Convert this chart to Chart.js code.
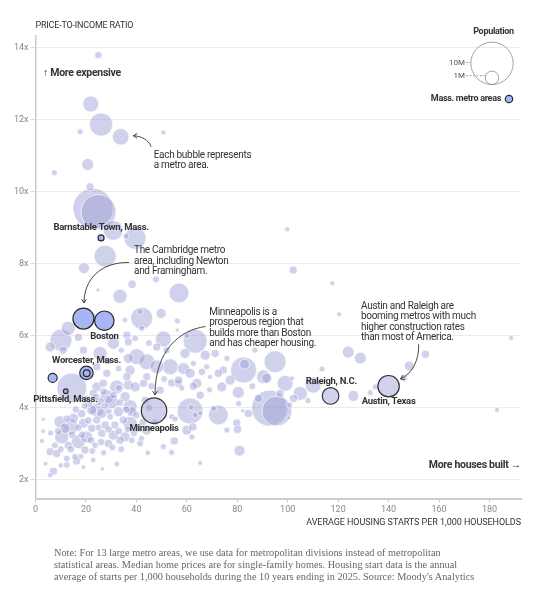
<!DOCTYPE html>
<html>
<head>
<meta charset="utf-8">
<script src="https://cdn.jsdelivr.net/npm/chart.js@4.4.1/dist/chart.umd.min.js"></script>
<style>
  html, body { margin: 0; padding: 0; background: #fff; }
  #wrap { position: relative; width: 542px; height: 599px; }
  #chart { position: absolute; left: 0; top: 0; }
  #note { position: absolute; left: 54px; top: 547px; width: 470px;
          font: 10.3px/12px 'Liberation Serif', Georgia, serif; color: #666; white-space: nowrap; }
</style>
</head>
<body>
<div id="wrap">
  <canvas id="chart" width="542" height="599"></canvas>
  <div id="note">Note: For 13 large metro areas, we use data for metropolitan divisions instead of metropolitan<br>statistical areas. Median home prices are for single-family homes. Housing start data is the annual<br>average of starts per 1,000 households during the 10 years ending in 2025. Source: Moody's Analytics</div>
</div>
<script>
// ===================
// Data (x = housing starts per 1,000 households, y = price-to-income, pop in millions)
// ===================

const otherX = [
  24.9, 21.9, 26.0, 33.8, 17.7, 50.7, 20.7, 7.5, 21.6, 22.8, 25.0, 30.8, 39.5, 35.9, 27.6, 19.2, 38.3, 47.8, 56.9, 33.5, 24.8, 99.8, 102.2, 117.7, 120.4, 188.6,
  124.0, 128.8, 154.6, 148.2, 146.2, 113.6, 110.1, 126.0, 132.7, 134.7, 183.0,
  92.8, 95.7, 95.0, 82.5, 82.9, 90.4, 99.0, 101.7, 102.3, 100.7, 100.3, 91.7, 105.0, 88.4, 84.4, 80.4, 73.9, 77.2, 74.5, 71.2, 75.9, 67.9, 72.5, 69.2, 72.5, 70.6, 79.8, 80.1, 75.9, 80.9, 82.2, 80.5, 97.0, 65.3,
  61.3, 61.7, 63.3, 65.3, 54.0, 56.7, 62.6, 65.3, 54.0, 55.4, 62.4, 62.0, 55.0, 54.0, 60.0, 50.7,
  42.1, 41.5, 42.1, 49.8, 56.2, 56.2, 50.7, 63.3, 59.3, 67.3, 62.6, 58.7, 53.4, 61.3, 56.7, 64.0, 49.4, 40.2, 44.1, 37.5, 48.1, 30.9, 36.2, 25.6, 19.0, 28.3, 24.3, 36.8, 48.1, 36.8, 32.9, 36.2, 44.1, 26.9, 32.2, 36.8, 42.8, 24.3, 28.3, 39.5, 43.5, 22.3, 35.5, 39.5,
  10.1, 13.0, 17.0, 5.8, 11.0, 14.4,
  3.1, 2.5, 9.7, 11.7, 10.4, 13.0, 7.7, 5.8, 17.0, 20.3, 22.3, 19.0, 15.0, 18.3, 22.3, 26.3, 30.2, 25.6, 22.9, 35.5, 32.9, 29.6, 24.3, 27.6, 31.5, 34.8, 38.2, 26.3, 30.9, 35.5, 38.2, 28.9, 23.6, 19.6, 15.7, 12.4, 16.3, 12.4, 7.1, 5.8, 22.9, 32.2, 21.0, 40.8, 37.5, 44.1, 41.5, 33.5, 8.4, 13.7, 24.3, 37.5,
  20.0, 24.0, 27.5, 29.0, 31.0, 33.5, 36.0, 40.0, 42.5, 39.0, 36.5, 33.0, 29.0, 25.0, 21.0, 17.0, 14.5, 18.5, 22.0, 26.0, 30.5, 34.0, 27.0, 22.5, 18.0, 14.0, 10.0, 9.0, 12.5, 16.0, 19.5, 27.0, 33.0, 45.0, 47.5, 42.0, 44.5, 10.0, 19.0, 26.5, 3.0, 6.0, 4.0,
  46.0, 51.0, 58.0, 66.0, 52.0, 45.0, 34.0, 28.5, 69.0, 86.0, 87.0, 108.0, 60.0
];
const otherY = [
  13.8, 12.44, 11.87, 11.53, 11.67, 11.65, 10.76, 10.53, 10.14, 9.54, 9.44, 8.93, 8.71, 8.77, 8.21, 7.88, 7.43, 7.57, 7.19, 7.10, 7.27, 8.96, 7.83, 7.46, 6.60, 5.94,
  5.55, 5.38, 5.49, 5.16, 4.83, 5.08, 4.63, 4.33, 4.42, 4.58, 3.94,
  3.99, 3.91, 5.28, 5.05, 5.21, 4.86, 4.68, 4.82, 4.26, 4.08, 3.72, 4.82, 4.40, 4.26, 3.84, 4.43, 4.58, 4.77, 5.05, 5.51, 5.37, 5.14, 4.96, 4.86, 3.80, 3.98, 3.58, 3.40, 3.38, 2.81, 3.92, 4.12, 4.40, 2.47,
  3.91, 4.01, 3.80, 3.85, 4.69, 4.68, 4.60, 4.35, 3.75, 3.69, 3.47, 3.19, 3.08, 2.76, 3.38, 2.92,
  6.49, 6.67, 6.21, 6.62, 6.41, 6.16, 5.91, 5.85, 5.51, 5.46, 5.23, 5.09, 5.14, 4.96, 4.77, 4.68, 4.49, 5.42, 5.28, 5.04, 5.14, 5.79, 6.02, 5.51, 5.60, 4.96, 5.14, 5.83, 5.69, 5.37, 5.09, 4.86, 4.86, 4.68, 4.58, 4.63, 4.68, 4.58, 4.31, 4.58, 4.21, 6.48, 6.44, 5.93,
  5.88, 6.21, 5.96, 5.69, 5.60, 4.55,
  3.68, 3.08, 3.61, 3.43, 3.19, 2.96, 2.96, 2.78, 3.06, 3.19, 3.43, 3.57, 3.71, 3.84, 3.94, 3.84, 4.17, 4.17, 4.40, 4.31, 3.89, 3.75, 3.66, 3.52, 3.52, 3.66, 3.89, 3.29, 3.24, 3.19, 3.10, 3.01, 2.96, 2.83, 2.64, 2.59, 2.52, 2.41, 2.24, 2.13, 2.55, 2.44, 4.12, 3.43, 3.57, 3.38, 3.01, 3.10, 2.73, 3.47, 3.94, 4.03,
  4.25, 4.30, 4.05, 3.90, 4.35, 4.15, 3.95, 3.80, 3.60, 3.30, 3.40, 3.35, 3.40, 3.45, 3.65, 3.45, 3.25, 3.25, 3.10, 3.05, 2.90, 2.85, 2.75, 2.80, 2.65, 2.85, 2.85, 3.35, 3.70, 3.95, 4.05, 4.45, 4.55, 4.00, 3.60, 3.15, 2.75, 2.40, 2.35, 2.30, 3.35, 3.30, 2.45,
  4.6, 4.8, 4.55, 5.0, 5.6, 5.8, 5.6, 5.3, 4.5, 4.6, 5.6, 4.2, 6.0
];
const otherPop = [
  0.3, 1.43, 3.0, 1.55, 0.2, 0.14, 0.8, 0.2, 0.36, 9.0, 6.8, 2.2, 2.7, 0.2, 2.7, 0.67, 0.4, 0.27, 2.2, 1.1, 0.09, 0.14, 0.36, 0.14, 0.14, 0.14,
  0.8, 0.8, 0.36, 0.56, 0.27, 0.2, 1.43, 0.67, 0.2, 0.2, 0.14,
  7.2, 5.0, 2.7, 3.8, 0.56, 1.1, 1.43, 0.14, 0.36, 0.2, 0.09, 0.56, 1.1, 0.36, 0.36, 0.8, 0.56, 0.56, 0.36, 0.36, 0.2, 0.2, 0.36, 0.14, 2.2, 0.2, 0.36, 0.36, 0.2, 0.67, 0.09, 0.2, 0.36, 0.14,
  3.8, 0.2, 0.2, 0.14, 0.36, 0.36, 0.36, 0.36, 0.2, 0.2, 0.36, 0.2, 0.36, 0.2, 0.56, 0.2,
  2.7, 0.2, 0.2, 0.56, 0.2, 0.09, 1.43, 3.2, 0.56, 0.56, 0.2, 0.8, 1.43, 0.56, 0.36, 0.56, 0.36, 1.43, 1.43, 0.56, 1.1, 0.8, 0.36, 1.1, 0.36, 0.36, 0.36, 0.36, 0.36, 0.56, 0.24, 0.36, 0.36, 0.36, 1.1, 0.56, 0.36, 0.56, 1.1, 0.56, 0.36, 0.8, 0.16, 0.24,
  2.7, 1.1, 0.36, 0.56, 0.36, 5.0,
  0.09, 0.14, 0.8, 0.56, 1.1, 0.36, 0.24, 0.36, 1.1, 0.8, 0.36, 0.56, 0.56, 0.36, 0.56, 0.56, 1.1, 0.36, 0.36, 0.56, 0.56, 0.24, 0.36, 0.36, 0.36, 0.36, 0.56, 0.36, 0.56, 0.56, 0.24, 0.36, 0.24, 0.36, 0.24, 0.24, 0.36, 0.24, 0.36, 0.16, 0.16, 0.16, 0.36, 0.36, 1.1, 0.56, 0.24, 0.36, 0.36, 1.43, 1.1, 1.1,
  0.3, 0.3, 0.3, 0.25, 0.3, 0.3, 0.3, 0.3, 0.3, 0.3, 0.25, 0.3, 0.3, 0.25, 0.3, 0.3, 0.3, 0.3, 0.3, 0.3, 0.25, 0.25, 0.2, 0.25, 0.2, 0.3, 0.25, 0.3, 0.3, 0.3, 0.25, 0.3, 0.25, 0.3, 0.25, 0.2, 0.16, 0.16, 0.12, 0.1, 0.12, 0.2, 0.12,
  0.3, 0.25, 0.2, 0.3, 0.3, 0.25, 0.2, 0.3, 0.2, 0.25, 0.2, 0.2, 0.2
];

// Massachusetts metro areas (highlighted)
const massNames = ['The Cambridge metro', 'Boston', 'Worcester, Mass.', '', '', 'Pittsfield, Mass.', 'Barnstable Town, Mass.'];
const massX   = [19.0, 27.3, 20.2, 20.3, 6.8, 12.0, 26.0];
const massY   = [6.48, 6.42, 4.97, 4.96, 4.83, 4.46, 8.72];
const massPop = [2.45, 2.1, 1.0, 0.25, 0.45, 0.12, 0.2];

// Outlined comparison metros
const calloutNames = ['Minneapolis', 'Raleigh, N.C.', 'Austin, Texas'];
const calloutX   = [47.0, 117.0, 140.0];
const calloutY   = [3.92, 4.33, 4.60];
const calloutPop = [3.6, 1.55, 2.55];

const xTicks = [0, 20, 40, 60, 80, 100, 120, 140, 160, 180];
const yTicks = [2, 4, 6, 8, 10, 12, 14];
const legendPops = [10, 1];
const legendLabels = ['10M', '1M'];

// ===================
// Helpers
// ===================

const FONT = "'Liberation Sans Narrow', 'Arial Narrow', Roboto, sans-serif";
const BUBBLE = 'rgba(150,154,210,0.45)';
const MASS = '#a6b5f3';

function radiusFor(pop) { return 6.7 * Math.sqrt(pop); }

function points(xs, ys, pops) {
  const n = Math.min(xs.length, ys.length, pops.length);
  const pts = [];
  for (let i = 0; i < n; i++) pts.push({ x: xs[i], y: ys[i], r: radiusFor(pops[i]) });
  return pts.sort((a, b) => b.r - a.r);
}

function txt(ctx, s, x, y, o) {
  o = o || {};
  ctx.font = (o.bold ? 'bold ' : '') + (o.size || 10) + 'px ' + FONT;
  ctx.fillStyle = o.color || '#333';
  ctx.textAlign = o.align || 'left';
  ctx.textBaseline = 'middle';
  ctx.letterSpacing = o.spacing || '-0.3px';
  ctx.fillText(s, x, y);
}

function lines(ctx, arr, x, y, step) {
  arr.forEach((s, i) => txt(ctx, s, x, y + i * step, { size: 10 }));
}

function arrow(ctx, p) {
  ctx.beginPath();
  ctx.moveTo(p[0], p[1]);
  ctx.bezierCurveTo(p[2], p[3], p[4], p[5], p[6], p[7]);
  ctx.stroke();
  const a = Math.atan2(p[7] - p[5], p[6] - p[4]);
  ctx.beginPath();
  ctx.moveTo(p[6] - 4.5 * Math.cos(a - 0.55), p[7] - 4.5 * Math.sin(a - 0.55));
  ctx.lineTo(p[6], p[7]);
  ctx.lineTo(p[6] - 4.5 * Math.cos(a + 0.55), p[7] - 4.5 * Math.sin(a + 0.55));
  ctx.stroke();
}

// ===================
// Annotations, labels and legend
// ===================

const notes = {
  id: 'notes',
  afterDraw(chart) {
    const ctx = chart.ctx;
    const xs = chart.scales.x, ys = chart.scales.y;
    const at = (vx, vy) => [xs.getPixelForValue(vx), ys.getPixelForValue(vy)];
    ctx.save();

    txt(ctx, 'PRICE-TO-INCOME RATIO', xs.left, 26, { size: 9, spacing: '-0.2px' });
    txt(ctx, 'AVERAGE HOUSING STARTS PER 1,000 HOUSEHOLDS', xs.right, 523, { size: 9, align: 'right', spacing: '-0.05px' });
    txt(ctx, '↑ More expensive', 43, 73, { bold: true, size: 10.5 });
    txt(ctx, 'More houses built →', xs.right, 465, { bold: true, size: 10.5, align: 'right' });

    // bubble labels
    const lab = (name, vx, vy, dx, dy) => {
      const p = at(vx, vy);
      txt(ctx, name, p[0] + dx, p[1] + dy, { bold: true, size: 9.5, align: 'center' });
    };
    lab(massNames[1], massX[1], massY[1], 0, 15.5);
    lab(massNames[2], massX[2], massY[2], 0, -12.7);
    lab(massNames[5], massX[5], massY[5], -0.4, 8);
    lab(massNames[6], massX[6], massY[6], 0, -10);
    lab(calloutNames[0], calloutX[0], calloutY[0], 0, 18);
    lab(calloutNames[1], calloutX[1], calloutY[1], 0.7, -14.7);
    lab(calloutNames[2], calloutX[2], calloutY[2], 0, 15.7);

    // callout texts
    lines(ctx, ['Each bubble represents', 'a metro area.'], 153.7, 155.3, 10.2);
    lines(ctx, ['The Cambridge metro', 'area, including Newton', 'and Framingham.'], 134, 250.7, 10.3);
    lines(ctx, ['Minneapolis is a', 'prosperous region that', 'builds more than Boston', 'and has cheaper housing.'], 209.3, 312.7, 10.2);
    lines(ctx, ['Austin and Raleigh are', 'booming metros with much', 'higher construction rates', 'than most of America.'], 361, 306.7, 10.2);

    ctx.strokeStyle = '#333';
    ctx.lineWidth = 0.9;
    arrow(ctx, [151, 146.7, 149, 140, 141, 136, 133.3, 135.7]);
    arrow(ctx, [129, 262.5, 100, 262, 84, 280, 84, 303]);
    arrow(ctx, [205.5, 326.5, 180, 330, 155, 350, 155, 395]);
    arrow(ctx, [418.7, 344.3, 419, 360, 413, 373, 400.5, 379]);

    // population legend
    txt(ctx, 'Population', 493.5, 32, { bold: true, size: 9, align: 'center' });
    const cx = 492, base = 84.5;
    ctx.strokeStyle = '#999';
    ctx.lineWidth = 0.9;
    const labelY = [62.5, 75.7];
    legendPops.forEach((pop, i) => {
      const r = radiusFor(pop);
      const cy = base - r;
      ctx.setLineDash([]);
      ctx.beginPath();
      ctx.arc(cx, cy, r, 0, Math.PI * 2);
      ctx.stroke();
      const dy = labelY[i] - cy;
      const edge = cx - Math.sqrt(Math.max(r * r - dy * dy, 0));
      ctx.setLineDash([2, 1.5]);
      ctx.beginPath();
      ctx.moveTo(466, labelY[i]);
      ctx.lineTo(edge, labelY[i]);
      ctx.stroke();
      txt(ctx, legendLabels[i], 465, labelY[i], { size: 8, color: '#555', align: 'right', spacing: '0px' });
    });
    ctx.setLineDash([]);
    txt(ctx, 'Mass. metro areas', 501, 99, { bold: true, size: 9, align: 'right' });
    ctx.beginPath();
    ctx.arc(509, 99, 3.7, 0, Math.PI * 2);
    ctx.fillStyle = MASS;
    ctx.fill();
    ctx.strokeStyle = '#2a2a2a';
    ctx.lineWidth = 1.2;
    ctx.stroke();

    ctx.restore();
  }
};

// ===================
// Bubble Chart
// ===================

var ctx = document.getElementById('chart').getContext('2d');
var chart = new Chart(ctx, {
  type: 'bubble',
  data: {
    datasets: [{
      label: 'Mass. metro areas',
      data: points(massX, massY, massPop),
      backgroundColor: MASS,
      borderColor: '#2a2a2a',
      borderWidth: 1.2,
      order: 1
    }, {
      label: 'Callouts',
      data: points(calloutX, calloutY, calloutPop),
      backgroundColor: BUBBLE,
      borderColor: '#333',
      borderWidth: 1.2,
      order: 2
    }, {
      label: 'Metro areas',
      data: points(otherX, otherY, otherPop),
      backgroundColor: BUBBLE,
      borderColor: 'rgba(255,255,255,0.85)',
      borderWidth: 0.8,
      order: 3
    }]
  },
  options: {
    responsive: false,
    animation: false,
    events: [],
    layout: { padding: { left: 0, right: 21, top: 36, bottom: 70.5 } },
    plugins: { legend: { display: false }, tooltip: { enabled: false } },
    scales: {
      x: {
        type: 'linear', min: 0, max: 192.5,
        afterBuildTicks: s => { s.ticks = xTicks.map(v => ({ value: v })); },
        afterFit: s => { s.height = 30; },
        grid: { drawOnChartArea: false, tickLength: 4, tickColor: '#ccc' },
        border: { color: '#ccc', width: 2 },
        ticks: { font: { family: FONT, size: 9 }, color: '#888', padding: 2, maxRotation: 0 }
      },
      y: {
        type: 'linear', min: 1.48, max: 14.33,
        afterBuildTicks: s => { s.ticks = yTicks.map(v => ({ value: v })); },
        afterFit: s => { s.width = 35.5; },
        grid: { color: '#ececec', tickLength: 5, tickColor: '#ddd' },
        border: { color: '#ccc', width: 1.5 },
        ticks: { font: { family: FONT, size: 9 }, color: '#888', padding: 2, callback: v => v + 'x' }
      }
    }
  },
  plugins: [notes]
});
</script>
</body>
</html>
